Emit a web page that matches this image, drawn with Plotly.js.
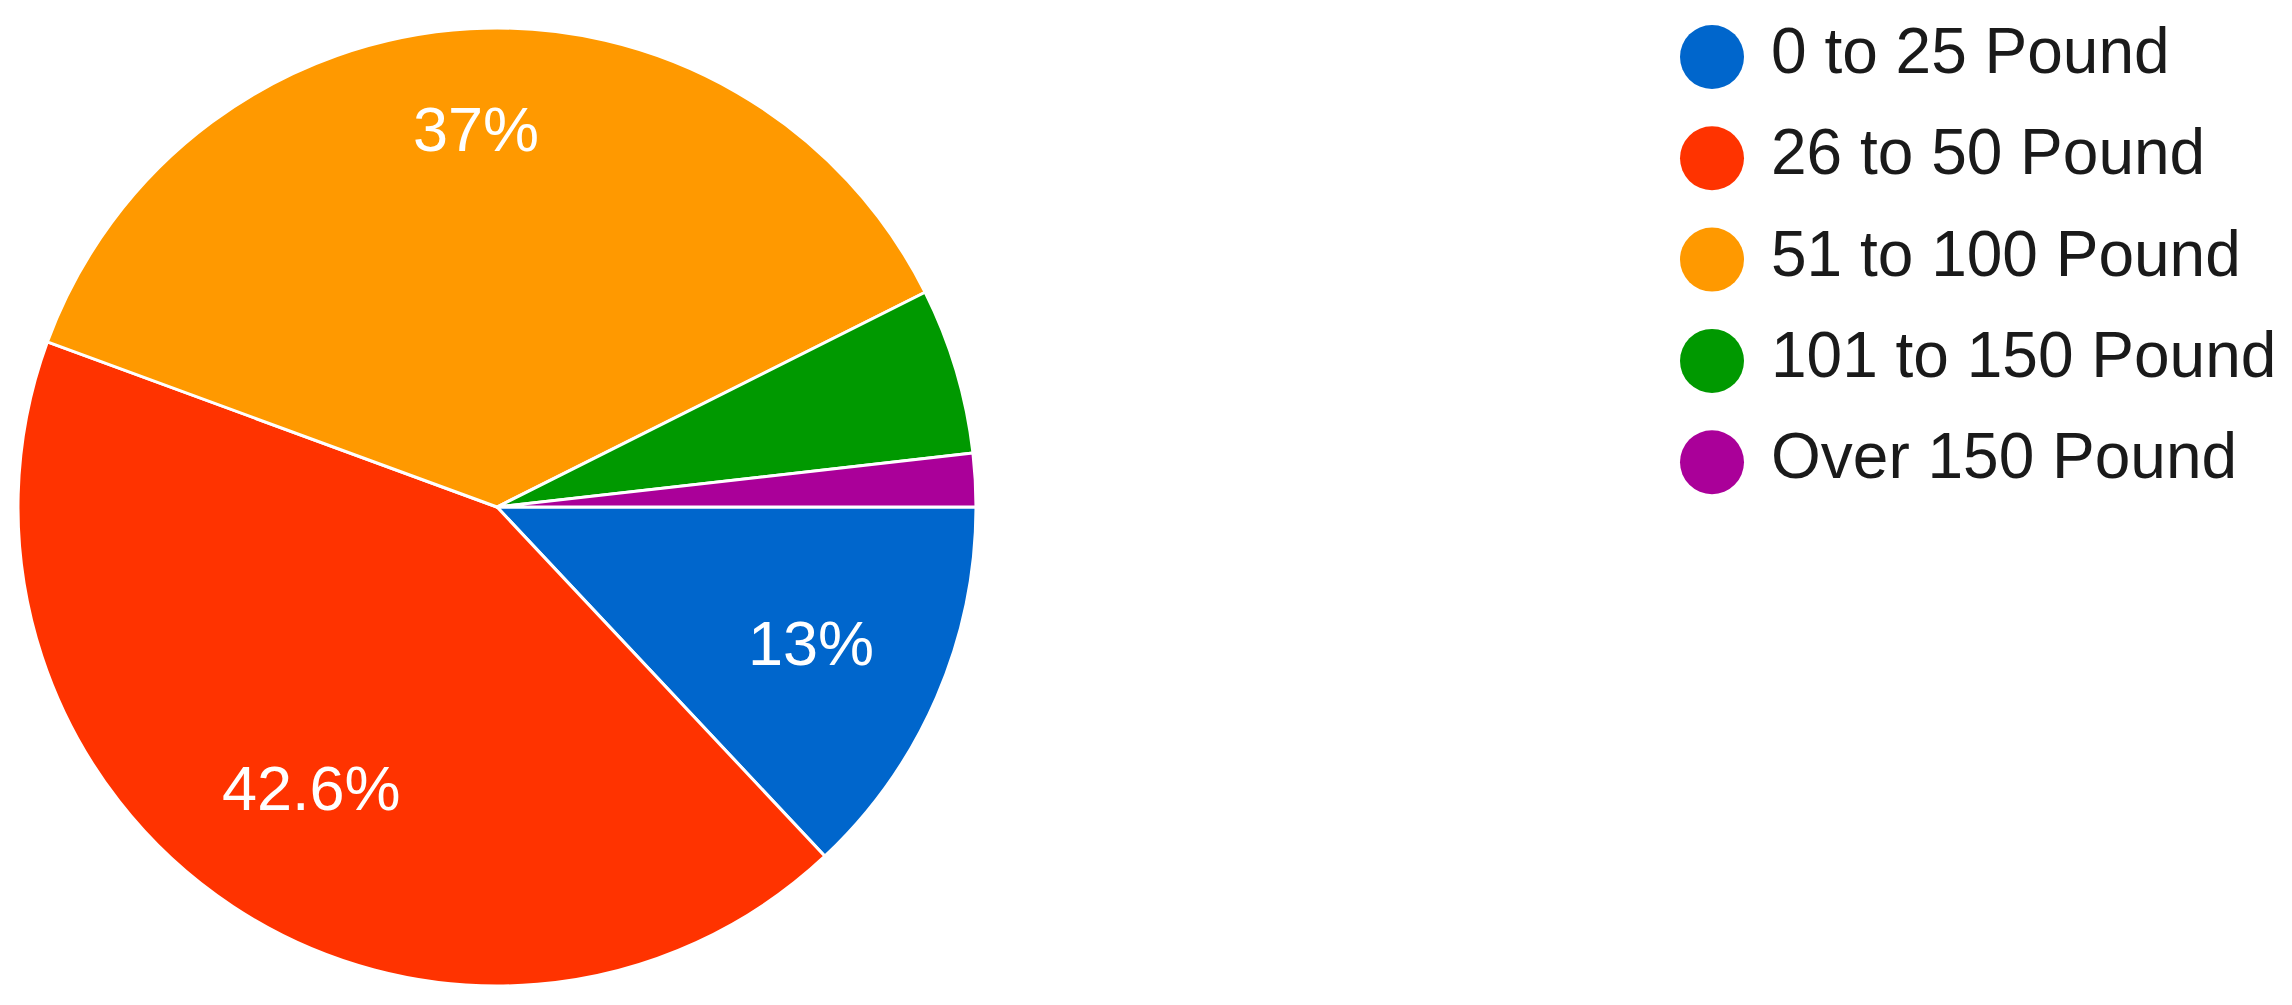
<!DOCTYPE html>
<html>
<head>
<meta charset="utf-8">
<script src="https://cdn.plot.ly/plotly-3.0.1.min.js"></script>
<style>
  html, body { margin: 0; padding: 0; background: #ffffff; }
  #chart { width: 2292px; height: 1005px; }
</style>
</head>
<body>
<div id="chart"></div>
<script>
// ---- data ----
const categories = ['0 to 25 Pound', '26 to 50 Pound', '51 to 100 Pound', '101 to 150 Pound', 'Over 150 Pound'];
const shares = [13, 42.6, 37, 5.6, 1.8];
const sliceLabels = ['13%', '42.6%', '37%', '', ''];
const colors = ['#0066CC', '#FF3300', '#FF9900', '#009900', '#AA0099'];

// ---- geometry / styles ----
const W = 2292, H = 1005;
const FONT = 'Liberation Sans, Arial, sans-serif';
const LABEL_SIZE = 63;
const LEGEND_SIZE = 64;
const pieDomain = { x: [18 / W, 976 / W], y: [19 / H, 977 / H] };

// ---- pie ----
const pie = {
  type: 'pie',
  labels: categories,
  values: shares,
  sort: false,
  direction: 'clockwise',
  rotation: 90,
  marker: { colors: colors, line: { color: '#ffffff', width: 3 } },
  textinfo: 'none',
  domain: pieDomain,
  showlegend: false,
  hoverinfo: 'label+percent'
};

// ---- slice labels placed from the data (mid-angle of each slice) ----
const cxPx = (pieDomain.x[0] + pieDomain.x[1]) / 2 * W;
const cyPx = (1 - (pieDomain.y[0] + pieDomain.y[1]) / 2) * H;
const Rpx = Math.min((pieDomain.x[1] - pieDomain.x[0]) * W, (pieDomain.y[1] - pieDomain.y[0]) * H) / 2;
const total = shares.reduce((a, b) => a + b, 0);
const ctx = document.createElement('canvas').getContext('2d');
ctx.font = LABEL_SIZE + 'px ' + FONT;
const annotations = [];
let cum = 0;
shares.forEach((v, i) => {
  const mid = (cum + v / 2) / total * 2 * Math.PI; // clockwise from 3 o'clock (screen coords)
  cum += v;
  const txt = sliceLabels[i];
  if (!txt) return;
  const c = Math.cos(mid), s = Math.sin(mid);
  const tw = ctx.measureText(txt).width, th = LABEL_SIZE * 0.72;
  const a = Math.sign(c) * tw / 2, b = Math.sign(s) * th / 2;
  const T = 0.855 * Rpx;
  const p = a * c + b * s;
  const r = -p + Math.sqrt(p * p - (a * a + b * b - T * T));
  const xPx = cxPx + r * c, yPx = cyPx + r * s;
  annotations.push({
    xref: 'paper', yref: 'paper',
    x: xPx / W, y: 1 - yPx / H,
    xanchor: 'center', yanchor: 'middle',
    text: txt, showarrow: false,
    font: { family: FONT, size: LABEL_SIZE, color: '#ffffff' }
  });
});

// ---- custom legend (circle markers + labels) ----
const idx = categories.map((_, i) => i);
const legendMarkers = {
  type: 'scatter',
  mode: 'markers',
  x: idx.map(() => 0),
  y: idx,
  marker: { size: 64, color: colors, symbol: 'circle', line: { width: 0 } },
  xaxis: 'x', yaxis: 'y',
  showlegend: false,
  hoverinfo: 'skip',
  cliponaxis: false
};
const legendText = {
  type: 'scatter',
  mode: 'text',
  x: idx.map(() => 0.59),
  y: idx,
  text: categories,
  textposition: 'middle right',
  textfont: { family: FONT, size: LEGEND_SIZE, color: '#1a1a1a' },
  xaxis: 'x', yaxis: 'y',
  showlegend: false,
  hoverinfo: 'skip',
  cliponaxis: false
};

const pxPerUnitY = 101.3;
const topVal = -57 / pxPerUnitY;
const xZero = 1712, xDomStart = 0.5 * W;
const layout = {
  width: W,
  height: H,
  margin: { l: 0, r: 0, t: 0, b: 0 },
  paper_bgcolor: '#ffffff',
  plot_bgcolor: 'rgba(0,0,0,0)',
  showlegend: false,
  xaxis: { domain: [0.5, 1], range: [-(xZero - xDomStart) / 100, (W - xZero) / 100], visible: false, fixedrange: true },
  yaxis: { domain: [0, 1], range: [topVal + H / pxPerUnitY, topVal], visible: false, fixedrange: true },
  annotations: annotations,
  font: { family: FONT }
};

Plotly.newPlot('chart', [pie, legendMarkers, legendText], layout, { displayModeBar: false, staticPlot: true });
</script>
</body>
</html>
